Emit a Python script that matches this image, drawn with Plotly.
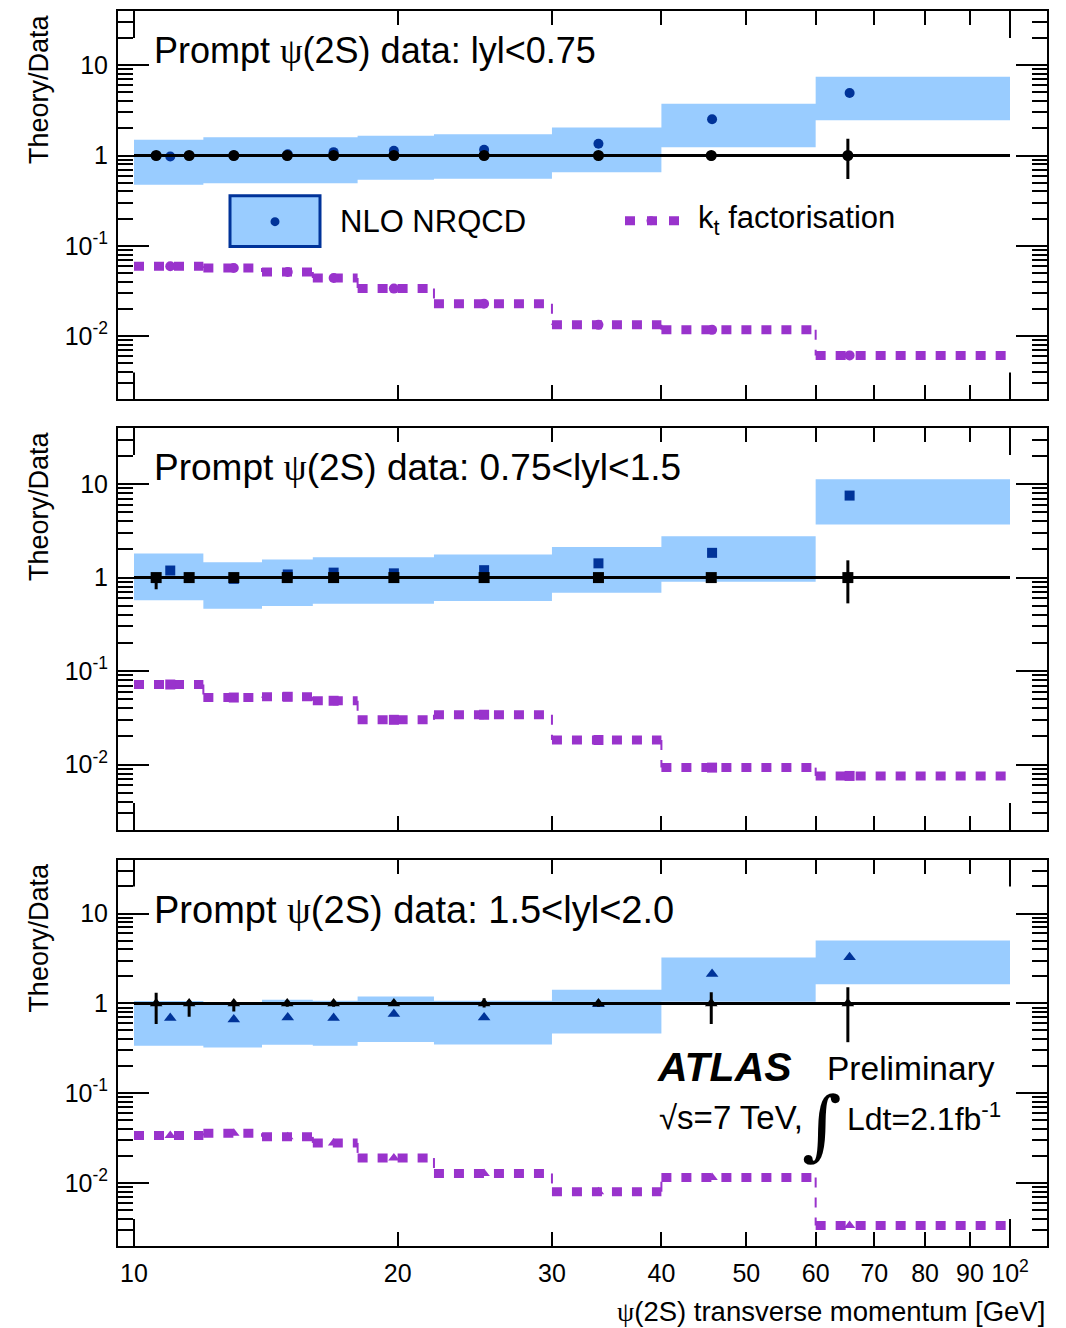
import numpy as np
import plotly.graph_objects as go

# ---------------- data ----------------
# measured data (ratio Data/Data = 1), mean pT per bin
data_edges = [10, 11, 12, 14, 16, 18, 22, 30, 40, 60, 100]
data_x = [10.6, 11.56, 13.0, 14.96, 16.9, 19.8, 25.1, 33.9, 45.6, 65.3]
data_y = [1, 1, 1, 1, 1, 1, 1, 1, 1, 1]

p1_err_up = [0.04, 0.04, 0.04, 0.04, 0.04, 0.05, 0.05, 0.08, 0.12, 0.53]
p1_err_dn = [0.04, 0.04, 0.04, 0.04, 0.04, 0.05, 0.05, 0.08, 0.12, 0.45]
p2_err_up = [0.10, 0.05, 0.05, 0.05, 0.05, 0.05, 0.05, 0.08, 0.12, 0.53]
p2_err_dn = [0.25, 0.05, 0.05, 0.05, 0.05, 0.05, 0.05, 0.08, 0.12, 0.47]
p3_err_up = [0.31, 0.09, 0.05, 0.08, 0.08, 0.06, 0.14, 0.08, 0.33, 0.51]
p3_err_dn = [0.41, 0.29, 0.19, 0.08, 0.08, 0.06, 0.10, 0.08, 0.41, 0.63]

# theory bins
th_edges = [10, 12, 14, 16, 18, 22, 30, 40, 60, 100]
th_x = [11.0, 13.0, 14.98, 16.9, 19.8, 25.1, 33.9, 45.7, 65.6]

# NLO NRQCD central / band
p1_nlo = [0.975, 1.0, 1.03, 1.09, 1.13, 1.16, 1.35, 2.52, 4.93]
p1_nlo_hi = [1.49, 1.59, 1.59, 1.59, 1.66, 1.72, 2.04, 3.75, 7.46]
p1_nlo_lo = [0.475, 0.494, 0.494, 0.494, 0.539, 0.553, 0.654, 1.235, 2.45]

p2_nlo = [1.19, 0.97, 1.08, 1.13, 1.11, 1.20, 1.42, 1.84, 7.54]
p2_nlo_hi = [1.81, 1.46, 1.56, 1.65, 1.65, 1.77, 2.12, 2.77, 11.25]
p2_nlo_lo = [0.571, 0.465, 0.496, 0.525, 0.525, 0.561, 0.689, 0.902, 3.70]

p3_nlo = [0.687, 0.663, 0.698, 0.687, 0.761, 0.698, 0.98, 2.13, 3.26]
p3_nlo_hi = [1.06, 1.02, 1.10, 1.07, 1.19, 1.07, 1.42, 3.24, 5.02]
p3_nlo_lo = [0.337, 0.323, 0.346, 0.337, 0.373, 0.348, 0.462, 1.04, 1.63]

# kt factorisation
p1_kt = [0.0594, 0.0569, 0.0514, 0.0441, 0.0336, 0.0228, 0.01333, 0.01174, 0.00612]
p2_kt = [0.0718, 0.0521, 0.0531, 0.0481, 0.0301, 0.0341, 0.01829, 0.00927, 0.00755]
p3_kt = [0.0339, 0.0359, 0.0327, 0.0280, 0.0190, 0.0128, 0.00802, 0.01158, 0.00337]

titles = ["lyl<0.75", "0.75<lyl<1.5", "1.5<lyl<2.0"]
symbols = ["circle", "square", "triangle-up"]

x_tickvals = [10, 20, 30, 40, 50, 60, 70, 80, 90, 100]
x_ticktext = ["10", "20", "30", "40", "50", "60", "70", "80", "90", "10<sup>2</sup>"]
y_tickvals = [0.01, 0.1, 1, 10]
y_ticktext = ["10<sup>-2</sup>", "10<sup>-1</sup>", "1", "10"]
y_minor = [m * 10.0 ** e for e in range(-3, 2) for m in range(2, 10)] + [20, 30, 40]

# ---------------- style ----------------
FONT = "Liberation Sans"
BAND = "#99CCFF"
BLUE = "#003399"
PURPLE = "#9933CC"

panels = [
    dict(nlo=p1_nlo, hi=p1_nlo_hi, lo=p1_nlo_lo, kt=p1_kt, eu=p1_err_up, ed=p1_err_dn),
    dict(nlo=p2_nlo, hi=p2_nlo_hi, lo=p2_nlo_lo, kt=p2_kt, eu=p2_err_up, ed=p2_err_dn),
    dict(nlo=p3_nlo, hi=p3_nlo_hi, lo=p3_nlo_lo, kt=p3_kt, eu=p3_err_up, ed=p3_err_dn),
]

W, H = 1066, 1328
ML, MR, MT, MB = 118, 19, 9, 82
plot_h = H - MT - MB
bottom_px = H - MB
panel_px = [(9, 398), (426.7, 829.3), (859, 1246)]
domains = [[(bottom_px - b) / plot_h, (bottom_px - t) / plot_h] for t, b in panel_px]
title_px = [48.5, 466.5, 909]
title_size = [36, 37, 38]

fig = go.Figure()

for i, p in enumerate(panels):
    xa = "x" if i == 0 else f"x{i+1}"
    ya = "y" if i == 0 else f"y{i+1}"
    edges = np.array(th_edges, dtype=float)
    hi = np.array(p["hi"])
    lo = np.array(p["lo"])
    # band polygon (step)
    bx = np.concatenate([np.repeat(edges, 2)[1:-1], np.repeat(edges, 2)[1:-1][::-1]])
    by = np.concatenate([np.repeat(hi, 2), np.repeat(lo, 2)[::-1]])
    fig.add_trace(go.Scatter(x=bx, y=by, fill="toself", fillcolor=BAND, line=dict(width=0),
                             mode="lines", xaxis=xa, yaxis=ya, showlegend=False, hoverinfo="skip"))
    # NLO central points
    fig.add_trace(go.Scatter(x=th_x, y=p["nlo"], mode="markers", xaxis=xa, yaxis=ya,
                             marker=dict(symbol=symbols[i], size=10 if i < 2 else 11, color=BLUE,
                                         line=dict(width=0)), showlegend=False))
    # kt factorisation: horizontal dashed pieces + thin vertical connectors
    kt = list(p["kt"])
    hx, hy, vx, vy = [], [], [], []
    for j in range(len(kt)):
        hx += [th_edges[j], th_edges[j + 1], None]
        hy += [kt[j], kt[j], None]
        if j > 0:
            vx += [th_edges[j], th_edges[j], None]
            vy += [kt[j - 1], kt[j], None]
    fig.add_trace(go.Scatter(x=vx, y=vy, mode="lines", xaxis=xa, yaxis=ya, connectgaps=False,
                             line=dict(color=PURPLE, width=2, dash="10px,10px"), showlegend=False))
    fig.add_trace(go.Scatter(x=hx, y=hy, mode="lines", xaxis=xa, yaxis=ya, connectgaps=False,
                             line=dict(color=PURPLE, width=9, dash="10px,10px"), showlegend=False))
    fig.add_trace(go.Scatter(x=th_x, y=kt, mode="markers", xaxis=xa, yaxis=ya,
                             marker=dict(symbol=symbols[i], size=10, color=PURPLE, line=dict(width=0)),
                             showlegend=False))
    # data reference line at 1
    fig.add_trace(go.Scatter(x=[data_edges[0], data_edges[-1]], y=[data_y[0], data_y[-1]], mode="lines",
                             line=dict(color="black", width=3), xaxis=xa, yaxis=ya, showlegend=False))
    # data points
    fig.add_trace(go.Scatter(x=data_x, y=data_y, mode="markers", xaxis=xa, yaxis=ya,
                             marker=dict(symbol=symbols[i], size=11, color="black", line=dict(width=0)),
                             error_y=dict(type="data", symmetric=False, array=p["eu"], arrayminus=p["ed"],
                                          color="black", thickness=3, width=0),
                             showlegend=False))

layout = dict(
    width=W, height=H, margin=dict(l=ML, r=MR, t=MT, b=MB),
    paper_bgcolor="white", plot_bgcolor="white",
    font=dict(family=FONT, color="black"),
)
for i in range(3):
    xk = "xaxis" if i == 0 else f"xaxis{i+1}"
    yk = "yaxis" if i == 0 else f"yaxis{i+1}"
    ya = "y" if i == 0 else f"y{i+1}"
    xa = "x" if i == 0 else f"x{i+1}"
    layout[xk] = dict(
        type="log", range=[0.98174, 2.04224], domain=[0, 1], anchor=ya,
        showline=True, linecolor="black", linewidth=2, mirror="ticks",
        ticks="inside", ticklen=14, tickwidth=2, tickcolor="black",
        tickvals=x_tickvals, ticktext=x_ticktext, showticklabels=(i == 2),
        tickfont=dict(size=25, family=FONT), ticklabelstandoff=4,
        showgrid=False, zeroline=False,
    )
    layout[yk] = dict(
        type="log", range=[-2.70, 1.60], domain=domains[i], anchor=xa,
        showline=True, linecolor="black", linewidth=2, mirror="ticks",
        ticks="inside", ticklen=31, tickwidth=2, tickcolor="black",
        tickvals=y_tickvals, ticktext=y_ticktext,
        tickfont=dict(size=25, family=FONT), ticklabelstandoff=3,
        minor=dict(tickvals=y_minor, ticks="inside", ticklen=15, tickwidth=2, tickcolor="black",
                   showgrid=False),
        showgrid=False, zeroline=False,
    )

shapes = []
annotations = []
pw = W - ML - MR
def dx(px):
    return (px - ML) / pw

for i in range(3):
    xa = "x" if i == 0 else f"x{i+1}"
    ya = "y" if i == 0 else f"y{i+1}"
    t, b = panel_px[i]
    ph = b - t
    frac = 27.0 / ph
    for xv in (x_tickvals[0], x_tickvals[-1]):
        for y0, y1 in ((0, frac), (1 - frac, 1)):
            shapes.append(dict(type="line", xref=xa, yref=f"{ya} domain", x0=xv, x1=xv, y0=y0, y1=y1,
                               line=dict(color="black", width=2)))
    annotations.append(dict(
        xref=f"{xa} domain", yref=f"{ya} domain", x=dx(152), y=(b - title_px[i]) / ph,
        xanchor="left", yanchor="middle", showarrow=False,
        text='Prompt <span style="font-family:Liberation Serif">ψ</span>(2S) data: ' + titles[i],
        font=dict(size=title_size[i], family=FONT)))
    annotations.append(dict(
        xref="paper", yref=f"{ya} domain", x=dx(39), y=1.0 - 1.0 / ph,
        xanchor="center", yanchor="top", textangle=-90, showarrow=False,
        text="Theory/Data", font=dict(size=27, family=FONT)))

# legend (panel 1)
t1, b1 = panel_px[0]
ph1 = b1 - t1
def dy1(py):
    return (b1 - py) / ph1

shapes.append(dict(type="rect", xref="x domain", yref="y domain", x0=dx(230), x1=dx(320), y0=dy1(245), y1=dy1(194),
                   fillcolor=BAND, line=dict(color=BLUE, width=3)))
shapes.append(dict(type="circle", xref="x domain", yref="y domain", x0=dx(270.5), x1=dx(279.5),
                   y0=dy1(224.5), y1=dy1(215.5), fillcolor=BLUE, line=dict(width=0)))
shapes.append(dict(type="line", xref="x domain", yref="y domain", x0=dx(625), x1=dx(679), y0=dy1(219), y1=dy1(219),
                   line=dict(color=PURPLE, width=9, dash="10px,12px")))
shapes.append(dict(type="circle", xref="x domain", yref="y domain", x0=dx(646.5), x1=dx(655.5),
                   y0=dy1(223.5), y1=dy1(214.5), fillcolor=PURPLE, line=dict(width=0)))
annotations.append(dict(xref="x domain", yref="y domain", x=dx(338), y=dy1(220), xanchor="left", yanchor="middle",
                        showarrow=False, text="NLO NRQCD", font=dict(size=31, family=FONT)))
annotations.append(dict(xref="x domain", yref="y domain", x=dx(696), y=dy1(218), xanchor="left", yanchor="middle",
                        showarrow=False, text="k<sub>t</sub> factorisation", font=dict(size=31, family=FONT)))

# x title
annotations.append(dict(xref="paper", yref="paper", x=1.0, y=(bottom_px - 1312) / plot_h, xanchor="right",
                        yanchor="middle", showarrow=False,
                        text='<span style="font-family:Liberation Serif">ψ</span>(2S) transverse momentum [GeV]',
                        font=dict(size=27.5, family=FONT)))

# ATLAS label (panel 3)
t3, b3 = panel_px[2]
ph3 = b3 - t3
def dy3(py):
    return (b3 - py) / ph3
annotations.append(dict(xref="x3 domain", yref="y3 domain", x=dx(655), y=dy3(1067), xanchor="left", yanchor="middle",
                        showarrow=False, text="<b><i>ATLAS</i></b>", font=dict(size=41, family=FONT)))
annotations.append(dict(xref="x3 domain", yref="y3 domain", x=dx(825), y=dy3(1068), xanchor="left", yanchor="middle",
                        showarrow=False, text="Preliminary", font=dict(size=33.5, family=FONT)))
annotations.append(dict(xref="x3 domain", yref="y3 domain", x=dx(657), y=dy3(1117), xanchor="left", yanchor="middle",
                        showarrow=False, text="√s=7 TeV,", font=dict(size=33, family=FONT)))
annotations.append(dict(xref="x3 domain", yref="y3 domain", x=dx(800), y=dy3(1124), xanchor="left", yanchor="middle",
                        showarrow=False, text="∫", font=dict(size=76, family="DejaVu Serif")))
annotations.append(dict(xref="x3 domain", yref="y3 domain", x=dx(845), y=dy3(1117), xanchor="left", yanchor="middle",
                        showarrow=False, text="Ldt=2.1fb<sup>-1</sup>", font=dict(size=32, family=FONT)))

layout["shapes"] = shapes
layout["annotations"] = annotations
fig.update_layout(**layout)
fig.write_html("out.html")
